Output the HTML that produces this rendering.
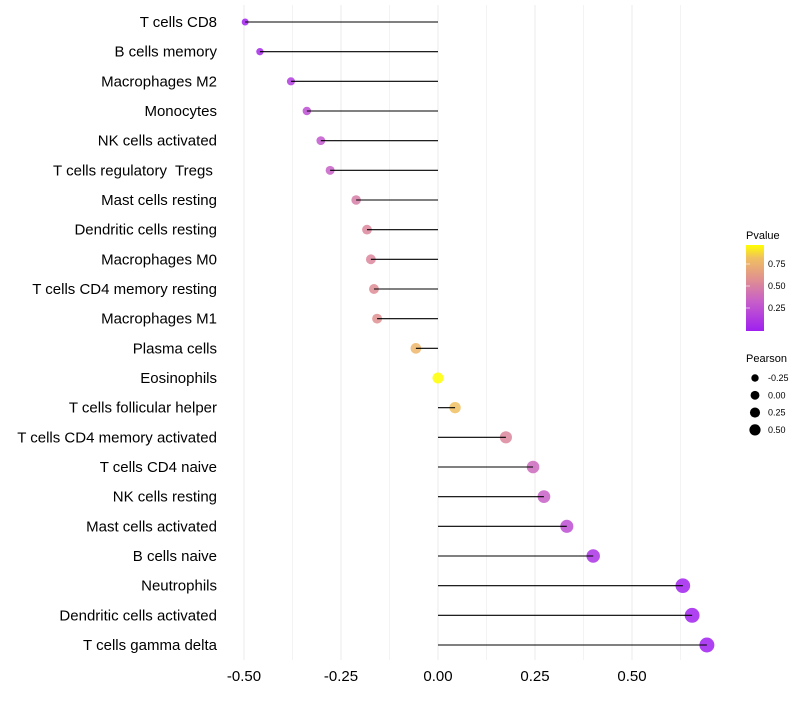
<!DOCTYPE html>
<html><head><meta charset="utf-8"><style>
body{margin:0;background:#fff;font-family:"Liberation Sans",sans-serif}
text{white-space:pre}
</style></head><body>
<svg id="chart" width="800" height="700" xmlns="http://www.w3.org/2000/svg">
<defs><linearGradient id="pg" x1="0" y1="1" x2="0" y2="0">
<stop offset="0" stop-color="#a020f0"/><stop offset="0.35" stop-color="#c860c8"/><stop offset="0.6" stop-color="#e09090"/><stop offset="0.85" stop-color="#f0c060"/><stop offset="1" stop-color="#ffff00"/></linearGradient></defs>
<g id="grid"></g><g id="marks"></g><g id="labels"></g><g id="legend"></g>
</svg>
<script>
const cells=["T cells CD8","B cells memory","Macrophages M2","Monocytes","NK cells activated","T cells regulatory  Tregs ","Mast cells resting","Dendritic cells resting","Macrophages M0","T cells CD4 memory resting","Macrophages M1","Plasma cells","Eosinophils","T cells follicular helper","T cells CD4 memory activated","T cells CD4 naive","NK cells resting","Mast cells activated","B cells naive","Neutrophils","Dendritic cells activated","T cells gamma delta"];
const pearson=[-0.497,-0.459,-0.379,-0.338,-0.302,-0.278,-0.211,-0.183,-0.173,-0.165,-0.157,-0.057,0.0,0.044,0.175,0.245,0.273,0.332,0.40,0.631,0.655,0.693];
const pvalue=[0.01,0.05,0.15,0.25,0.3,0.35,0.5,0.55,0.55,0.58,0.6,0.8,1.0,0.85,0.55,0.4,0.35,0.25,0.1,0.01,0.005,0.001];
const xTicks=[-0.5,-0.25,0,0.25,0.5];
const xTickLabels=["-0.50","-0.25","0.00","0.25","0.50"];
const pTicks=[0.25,0.5,0.75];
const sizeTicks=[-0.25,0,0.25,0.5];

const NS="http://www.w3.org/2000/svg";
const X=v=>438+v*388;
const Y=i=>22+i*(623/21);
const R=v=>Math.sqrt(Math.max(4,12+(v+0.5)*37));
const stops=[[0,[160,32,240]],[0.35,[200,96,200]],[0.6,[224,144,144]],[0.85,[240,192,96]],[1,[255,255,0]]];
function col(p){for(let k=1;k<stops.length;k++){if(p<=stops[k][0]){const a=stops[k-1],b=stops[k],t=(p-a[0])/(b[0]-a[0]);return "rgb("+a[1].map((c,j)=>Math.round(c+(b[1][j]-c)*t)).join(",")+")";}}return "rgb(255,255,0)";}
function mk(tag,at,parent,txt){const e=document.createElementNS(NS,tag);for(const k in at)e.setAttribute(k,at[k]);if(txt!==undefined)e.textContent=txt;document.getElementById(parent).appendChild(e);return e;}
for(let v=-0.5;v<=0.7;v+=0.125){const g=mk("line",{x1:X(v),x2:X(v),y1:5,y2:660,stroke:"#ebebeb","stroke-width":Math.abs((v*4)%1)<1e-6?1:0.6},"grid");

}
xTicks.forEach((v,i)=>{const t=mk("text",{x:X(v),y:681,"text-anchor":"middle","font-size":15,fill:"#000"},"labels",xTickLabels[i]);

});
cells.forEach((c,i)=>{
const t=mk("text",{x:217,y:Y(i)+5,"text-anchor":"end","font-size":15,fill:"#000"},"labels",c);


const p=mk("circle",{cx:X(pearson[i]),cy:Y(i),r:R(pearson[i]),fill:col(pvalue[i]),"fill-opacity":0.85},"marks");


const l=mk("line",{x1:X(0),x2:X(pearson[i]),y1:Y(i),y2:Y(i),stroke:"#000","stroke-width":1.1},"marks");


});
let e=mk("text",{x:746,y:239,"font-size":11},"legend","Pvalue");


e=mk("rect",{x:746,y:245,width:18,height:86,fill:"url(#pg)"},"legend");


pTicks.forEach(p=>{const yy=330-p*88;
const t=mk("text",{x:768,y:yy+3,"font-size":9},"legend",p.toFixed(2));


const l=mk("line",{x1:746,x2:750,y1:yy,y2:yy,stroke:"#fff","stroke-opacity":0.6},"legend");

});
e=mk("text",{x:746,y:362,"font-size":11},"legend","Pearson");


sizeTicks.forEach((v,i)=>{const yy=378+i*17.3;
const c=mk("circle",{cx:755,cy:yy,r:R(v)*0.8,fill:"#000"},"legend");


const t=mk("text",{x:768,y:yy+3,"font-size":9},"legend",v.toFixed(2));

});
</script>
</body></html>
